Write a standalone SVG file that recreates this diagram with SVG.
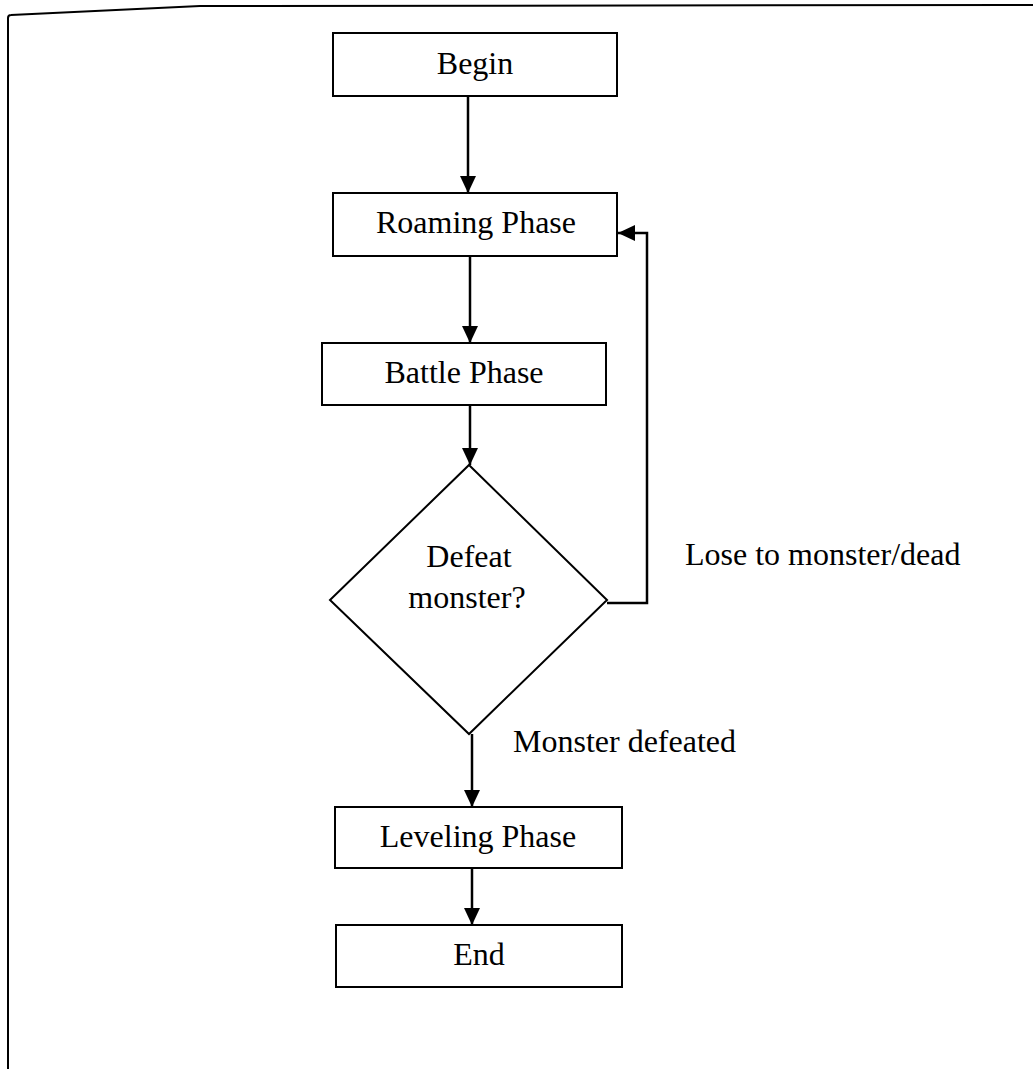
<svg xmlns="http://www.w3.org/2000/svg" width="1033" height="1069" viewBox="0 0 1033 1069">
  <style>
    .box { fill: #fff; stroke: #000; stroke-width: 2; }
    .lbl { font-family: "Liberation Serif", "Times New Roman", serif; font-size: 32px; fill: #000; }
    .mid { text-anchor: middle; }
    .wire { fill: none; stroke: #000; stroke-width: 2.5; }
    .frame { fill: none; stroke: #000; stroke-width: 2; }
  </style>
  <defs>
    <marker id="head" markerUnits="userSpaceOnUse" markerWidth="17" markerHeight="17" refX="17" refY="8" orient="auto">
      <path d="M0,0 L17,8 L0,16 Z" fill="#000"/>
    </marker>
  </defs>
  <rect width="1033" height="1069" fill="#fff"/>

  <!-- page frame -->
  <path class="frame" d="M8,1069 L8,18 Q8,15 11,15 L200,6 L1033,5"/>

  <!-- connectors -->
  <g id="connectors">
    <line class="wire" x1="468" y1="96" x2="468" y2="193" marker-end="url(#head)"/>
    <line class="wire" x1="470" y1="256" x2="470" y2="343" marker-end="url(#head)"/>
    <line class="wire" x1="470" y1="405" x2="470" y2="465" marker-end="url(#head)"/>
    <line class="wire" x1="472" y1="734" x2="472" y2="807" marker-end="url(#head)"/>
    <line class="wire" x1="472" y1="868" x2="472" y2="925" marker-end="url(#head)"/>
    <polyline class="wire" points="607,603 647,603 647,233 618,233" marker-end="url(#head)"/>
    <text class="lbl" x="685" y="565">Lose to monster/dead</text>
    <text class="lbl" x="513" y="752">Monster defeated</text>
  </g>

  <!-- nodes -->
  <g id="begin">
    <rect class="box" x="333" y="33" width="284" height="63"/>
    <text class="lbl mid" x="475" y="74">Begin</text>
  </g>
  <g id="roaming">
    <rect class="box" x="333" y="193" width="284" height="63"/>
    <text class="lbl mid" x="476" y="233">Roaming Phase</text>
  </g>
  <g id="battle">
    <rect class="box" x="322" y="343" width="284" height="62"/>
    <text class="lbl mid" x="464" y="383">Battle Phase</text>
  </g>
  <g id="decision">
    <polygon class="box" points="469,465 607,600 469,734 330,600"/>
    <text class="lbl mid" x="469" y="567">Defeat</text>
    <text class="lbl mid" x="467" y="608">monster?</text>
  </g>
  <g id="leveling">
    <rect class="box" x="335" y="807" width="287" height="61"/>
    <text class="lbl mid" x="478" y="847">Leveling Phase</text>
  </g>
  <g id="end">
    <rect class="box" x="336" y="925" width="286" height="62"/>
    <text class="lbl mid" x="479" y="965">End</text>
  </g>
</svg>
